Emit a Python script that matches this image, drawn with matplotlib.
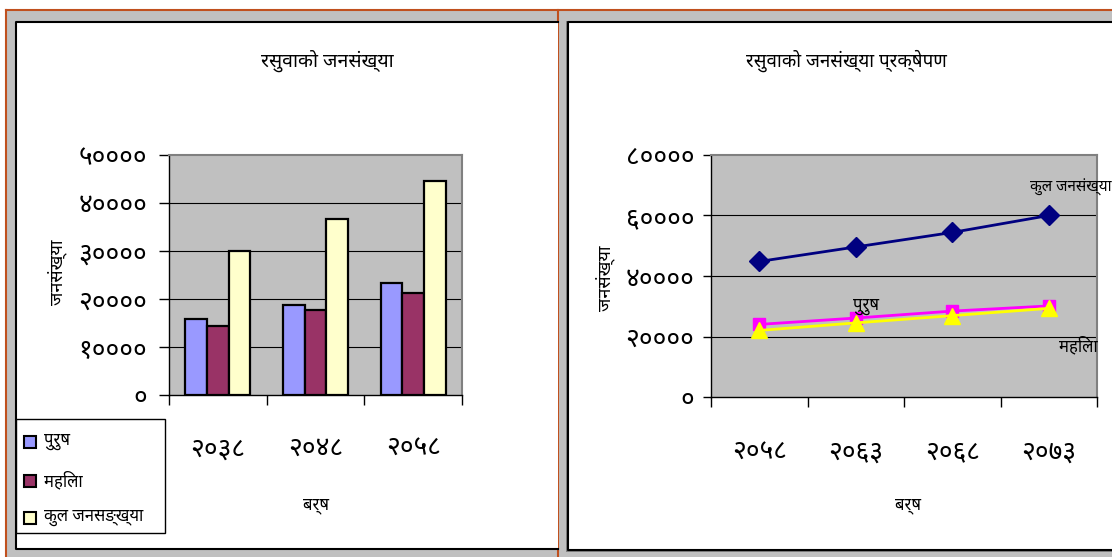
import matplotlib
matplotlib.use("Agg")
import matplotlib.pyplot as plt
from matplotlib import font_manager as fm
from matplotlib.patches import Rectangle
from matplotlib.lines import Line2D
import numpy as np

# ---------------- data ----------------
bar_years = ["२०३८", "२०४८", "२०५८"]
male = [15900, 18800, 23300]
female = [14300, 17800, 21300]
total = [30100, 36600, 44500]
bar_yticks = [0, 10000, 20000, 30000, 40000, 50000]
bar_ytick_labels = ["०", "१००००", "२००००", "३००००", "४००००", "५००००"]

proj_years = ["२०५८", "२०६३", "२०६८", "२०७३"]
proj_total = [44800, 49600, 54400, 60000]
proj_male = [24000, 26100, 28400, 30100]
proj_female = [22000, 24500, 26900, 29300]
proj_yticks = [0, 20000, 40000, 60000, 80000]
proj_ytick_labels = ["०", "२००००", "४००००", "६००००", "८००००"]

legend_labels = ["पुरुष", "महिला", "कुल जनसङ्ख्या"]
title_left = "रसुवाको जनसंख्या"
title_right = "रसुवाको जनसंख्या प्रक्षेपण"
ylabel_text = "जनसंख्या"
xlabel_text = "बर्ष"
ann_total = "कुल जनसंख्या"
ann_male = "पुरुष"
ann_female = "महिला"

# ---------------- font ----------------
available = {f.name for f in fm.fontManager.ttflist}
prefs = ["Noto Sans Devanagari", "Lohit Devanagari", "Mukta", "Hind",
         "FreeSans", "Ek Mukta", "Akshar"]
dev = next((p for p in prefs if p in available), None)
families = ([dev] if dev else []) + ["DejaVu Sans"]
plt.rcParams["font.family"] = families

W, H = 1112, 557
fig = plt.figure(figsize=(W / 100, H / 100), dpi=100)
fig.patch.set_facecolor("white")

def fx(x):
    return x / W

def fy(y):
    return 1 - y / H

def frect(x0, y0, x1, y1, **kw):
    r = Rectangle((fx(x0), fy(y1)), fx(x1) - fx(x0), fy(y0) - fy(y1),
                  transform=fig.transFigure, **kw)
    fig.patches.append(r)

def fline(xs, ys, **kw):
    fig.lines.append(Line2D([fx(v) for v in xs], [fy(v) for v in ys],
                            transform=fig.transFigure, **kw))

# background frame
frect(6, 10, W + 5, H + 5, facecolor="#c0c0c0", edgecolor="none", zorder=0)
fline([6, W], [10, 10], color="#c0501e", lw=1.5, zorder=1)
fline([6, 6], [10, H], color="#c0501e", lw=1.5, zorder=1)
fline([558, 558], [10, H], color="#c0501e", lw=1.5, zorder=1)
# left chart panel
frect(16, 22, 558, 549, facecolor="white", edgecolor="none", zorder=1)
fline([558, 16, 16, 558], [22, 22, 549, 549], color="black", lw=1.5, zorder=2)
# right chart panel
frect(566, 21, W + 5, 552, facecolor="#808080", edgecolor="none", zorder=1)
frect(568, 22, W + 5, 550, facecolor="white", edgecolor="none", zorder=1)
fline([W + 5, 568, 568, W + 5], [22, 22, 550, 550], color="black", lw=1.5, zorder=2)

grid_kw = dict(color="black", lw=0.8)
plot_bg = "#c0c0c0"
tick_fs = 19

# ---------------- left: bar chart ----------------
axL = fig.add_axes([fx(169), fy(395), fx(462) - fx(169), fy(155) - fy(395)])
axL.set_zorder(5)
axL.set_facecolor(plot_bg)
x = np.arange(len(bar_years))
bw = 1 / 4.5
series = [(male, "#9999ff"), (female, "#993366"), (total, "#ffffcc")]
for i, (vals, col) in enumerate(series):
    axL.bar(x + (i - 1) * bw, vals, width=bw, color=col, edgecolor="black",
            linewidth=1.6, zorder=3, label=legend_labels[i])
axL.set_xlim(-0.5, len(bar_years) - 0.5)
axL.set_ylim(0, 50000)
axL.set_yticks(bar_yticks)
axL.set_yticklabels(bar_ytick_labels, fontsize=tick_fs)
axL.set_xticks(np.arange(-0.5, len(bar_years)), minor=False)
axL.set_xticklabels([])
axL.set_xticks(x, minor=True)
axL.set_xticklabels(bar_years, minor=True, fontsize=tick_fs)
axL.tick_params(axis="x", which="major", length=7.5, width=1, direction="out")
axL.tick_params(axis="x", which="minor", length=0, pad=29)
axL.tick_params(axis="y", length=7.5, width=1, pad=8)
for v in bar_yticks[1:-1]:
    axL.axhline(v, zorder=1, **grid_kw)
for s in ["top", "right"]:
    axL.spines[s].set_color("#808080")
    axL.spines[s].set_linewidth(1.5)
for s in ["left", "bottom"]:
    axL.spines[s].set_color("black")
    axL.spines[s].set_linewidth(1)

fig.text(fx(327), fy(61), title_left, fontsize=14, ha="center", va="center")
fig.text(fx(57), fy(272), ylabel_text, fontsize=13, ha="center", va="center", rotation=90)
fig.text(fx(316), fy(506), xlabel_text, fontsize=12, ha="center", va="center")

# legend box
frect(16, 419, 165, 533, facecolor="white", edgecolor="black", lw=1, zorder=3)
rows = [442, 481, 518]
for (vals, col), lab, ry in zip(series, legend_labels, rows):
    frect(24, ry - 6, 36, ry + 6, facecolor=col, edgecolor="black", lw=1.5, zorder=4)
    fig.text(fx(44), fy(ry), lab, fontsize=12, ha="left", va="center", zorder=4)

# ---------------- right: line chart ----------------
axR = fig.add_axes([fx(711), fy(397), fx(1097) - fx(711), fy(155) - fy(397)])
axR.set_zorder(5)
axR.set_facecolor(plot_bg)
xp = np.arange(len(proj_years))
axR.plot(xp, proj_total, color="#000080", lw=2, marker="D", markersize=10, zorder=4)
axR.plot(xp, proj_male, color="#ff00ff", lw=2, marker="s", markersize=9, zorder=4)
axR.plot(xp, proj_female, color="#ffff00", lw=2, marker="^", markersize=12, zorder=5)
axR.set_xlim(-0.5, len(proj_years) - 0.5)
axR.set_ylim(0, 80000)
axR.set_yticks(proj_yticks)
axR.set_yticklabels(proj_ytick_labels, fontsize=tick_fs)
axR.set_xticks(np.arange(-0.5, len(proj_years)), minor=False)
axR.set_xticklabels([])
axR.set_xticks(xp, minor=True)
axR.set_xticklabels(proj_years, minor=True, fontsize=tick_fs)
axR.tick_params(axis="x", which="major", length=7.5, width=1, direction="out")
axR.tick_params(axis="x", which="minor", length=0, pad=30)
axR.tick_params(axis="y", length=6, width=1, pad=6)
for v in proj_yticks[1:-1]:
    axR.axhline(v, zorder=1, **grid_kw)
for s in ["top", "right"]:
    axR.spines[s].set_color("#808080")
    axR.spines[s].set_linewidth(1.5)
for s in ["left", "bottom"]:
    axR.spines[s].set_color("black")
    axR.spines[s].set_linewidth(1)

fig.text(fx(846), fy(61), title_right, fontsize=13.5, ha="center", va="center")
fig.text(fx(605), fy(278), ylabel_text, fontsize=13, ha="center", va="center", rotation=90)
fig.text(fx(908), fy(506), xlabel_text, fontsize=12, ha="center", va="center")
fig.text(fx(1030), fy(187), ann_total, fontsize=11, ha="left", va="center", zorder=6)
fig.text(fx(866), fy(307), ann_male, fontsize=12, ha="center", va="center", zorder=6)
fig.text(fx(1078), fy(346), ann_female, fontsize=12, ha="center", va="center", zorder=6)

fig.savefig("out.png", dpi=100)
